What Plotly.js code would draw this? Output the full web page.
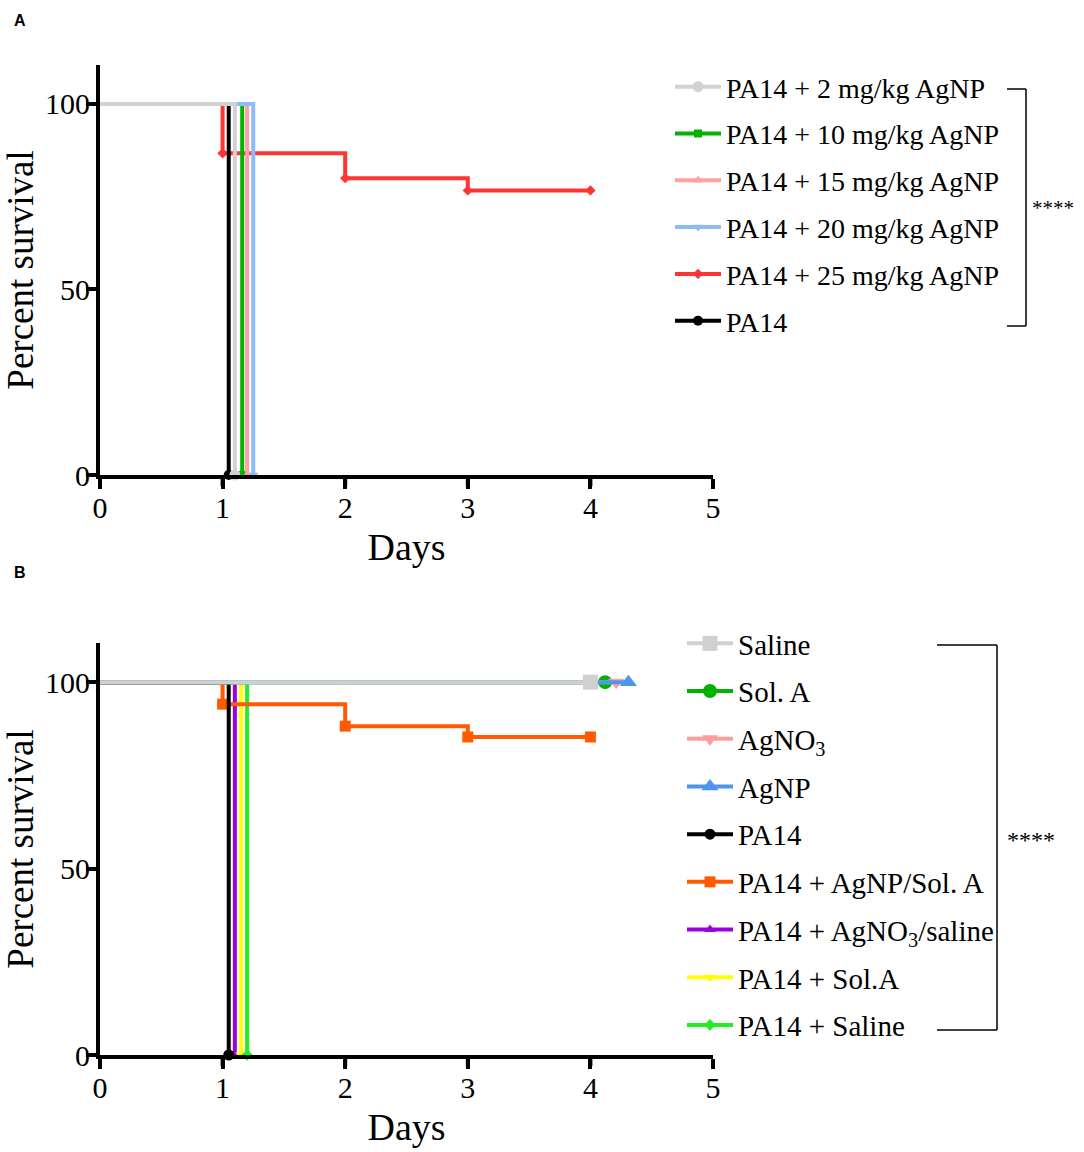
<!DOCTYPE html>
<html><head><meta charset="utf-8">
<script src="https://cdn.plot.ly/plotly-3.0.1.min.js"></script>
<style>html,body{margin:0;padding:0;background:#fff}</style>
</head><body><div id="chart" style="width:1084px;height:1152px"></div>
<script>
// ---------- Panel A data ----------
const namesA = ['PA14 + 2 mg/kg AgNP', 'PA14 + 10 mg/kg AgNP', 'PA14 + 15 mg/kg AgNP',
                'PA14 + 20 mg/kg AgNP', 'PA14 + 25 mg/kg AgNP', 'PA14'];
const daysA2 = [0, 1.10];   const survA2 = [100, 0];
const daysA10 = [0, 1.16];  const survA10 = [100, 0];
const daysA15 = [0, 1.20];  const survA15 = [100, 0];
const daysA20 = [0, 1.25];  const survA20 = [100, 0];
const daysA25 = [0, 1, 2, 3, 4];  const survA25 = [100, 86.7, 80, 76.7, 76.7];
const daysAPA = [0, 1.05];  const survAPA = [100, 0];

// ---------- Panel B data ----------
const namesB = ['Saline', 'Sol. A', 'AgNO<sub>3</sub>', 'AgNP', 'PA14', 'PA14 + AgNP/Sol. A',
                'PA14 + AgNO<sub>3</sub>/saline', 'PA14 + Sol.A', 'PA14 + Saline'];
const daysBSal = [0, 4.00];  const survBSal = [100, 100];
const daysBSolA = [0, 4.12]; const survBSolA = [100, 100];
const daysBAgNO3 = [0, 4.21]; const survBAgNO3 = [100, 100];
const daysBAgNP = [0, 4.31]; const survBAgNP = [100, 100];
const daysBPA = [0, 1.05];   const survBPA = [100, 0];
const daysBPANP = [0, 1, 2, 3, 4]; const survBPANP = [100, 94.1, 88.2, 85.3, 85.3];
const daysBPANO3 = [0, 1.10]; const survBPANO3 = [100, 0];
const daysBPASolA = [0, 1.15]; const survBPASolA = [100, 0];
const daysBPASal = [0, 1.20]; const survBPASal = [100, 0];

const xTicks = [0, 1, 2, 3, 4, 5];
const yTicks = [0, 50, 100];

// ---------- helpers ----------
const W = 1084, H = 1152;
const px = v => v / W, py = v => 1 - v / H;
const SERIF = 'Liberation Serif, Times New Roman, serif';

function km(x, y, name, color, symbol, msize, xa, ya, legend, rank) {
  return {
    type: 'scatter', mode: 'lines+markers', x: x, y: y, name: name,
    xaxis: xa, yaxis: ya, legend: legend, legendgroup: name, legendrank: rank,
    line: {color: color, width: 4, shape: 'hv'},
    marker: {color: color, symbol: symbol, size: msize, line: {width: 0}},
    selectedpoints: x.map((_, i) => i).slice(1),
    selected: {marker: {opacity: 1}}, unselected: {marker: {opacity: 0}},
    cliponaxis: false, hoverinfo: 'x+y+name'
  };
}

// traces listed in drawing order (bottom first); legendrank gives legend order
const traces = [
  km(daysA25, survA25, namesA[4], '#ff3434', 'diamond', 8, 'x', 'y', 'legend', 5),
  km(daysAPA, survAPA, namesA[5], '#000000', 'circle', 10, 'x', 'y', 'legend', 6),
  km(daysA10, survA10, namesA[1], '#00b400', 'square', 8, 'x', 'y', 'legend', 2),
  km(daysA15, survA15, namesA[2], '#ff9f9f', 'triangle-up', 9, 'x', 'y', 'legend', 3),
  km(daysA20, survA20, namesA[3], '#8cbcf5', 'triangle-down', 9, 'x', 'y', 'legend', 4),
  km(daysA2, survA2, namesA[0], '#d2d2d2', 'circle', 11, 'x', 'y', 'legend', 1),

  km(daysBPANO3, survBPANO3, namesB[6], '#9b00df', 'triangle-up', 10, 'x2', 'y2', 'legend2', 7),
  km(daysBPASolA, survBPASolA, namesB[7], '#ffff00', 'triangle-down', 10, 'x2', 'y2', 'legend2', 8),
  km(daysBPASal, survBPASal, namesB[8], '#22ee22', 'diamond', 9, 'x2', 'y2', 'legend2', 9),
  km(daysBPANP, survBPANP, namesB[5], '#ff5a00', 'square', 11, 'x2', 'y2', 'legend2', 6),
  km(daysBPA, survBPA, namesB[4], '#000000', 'circle', 11, 'x2', 'y2', 'legend2', 5),
  km(daysBSolA, survBSolA, namesB[1], '#00b300', 'circle', 14, 'x2', 'y2', 'legend2', 2),
  km(daysBAgNO3, survBAgNO3, namesB[2], '#ff9c9c', 'triangle-down', 14, 'x2', 'y2', 'legend2', 3),
  km(daysBAgNP, survBAgNP, namesB[3], '#4d96ef', 'triangle-up', 15, 'x2', 'y2', 'legend2', 4),
  km(daysBSal, survBSal, namesB[0], '#d0d0d0', 'square', 15, 'x2', 'y2', 'legend2', 1)
];

function xax(dom, anchor) {
  return {
    domain: dom, anchor: anchor, range: [0, 5], tickvals: xTicks, ticktext: xTicks.map(String),
    showline: true, linewidth: 4, linecolor: '#000', ticks: 'outside', ticklen: 10, tickwidth: 4,
    tickcolor: '#000', showgrid: false, zeroline: false,
    tickfont: {family: SERIF, size: 30, color: '#000'}, ticklabelstandoff: -7,
    title: {text: 'Days', font: {family: SERIF, size: 38, color: '#000'}, standoff: 11},
    automargin: false
  };
}
function yax(dom, anchor) {
  return {
    domain: dom, anchor: anchor, range: [0, 110.5], tickvals: yTicks, ticktext: yTicks.map(String),
    showline: true, linewidth: 4, linecolor: '#000', ticks: 'outside', ticklen: 10, tickwidth: 4,
    tickcolor: '#000', showgrid: false, zeroline: false,
    tickfont: {family: SERIF, size: 30, color: '#000'}, ticklabelstandoff: -10,
    title: {text: 'Percent survival', font: {family: SERIF, size: 37, color: '#000'}, standoff: 12},
    automargin: false
  };
}

// x tick marks anchored to the x scale, placed below the axis domain (pixel offsets)
function xTickMarks(xa, ya) {
  return xTicks.map(t => ({type: 'line', xref: xa, yref: ya + ' domain', ysizemode: 'pixel', yanchor: 0,
    x0: t, x1: t, y0: -1, y1: -11, line: {color: '#000', width: 4}}));
}

const xdom = [px(100), px(713)];
const line = (x0, y0, x1, y1) => ({type: 'line', xref: 'paper', yref: 'paper',
  x0: px(x0), y0: py(y0), x1: px(x1), y1: py(y1), line: {color: '#000', width: 1.5}});
const note = (text, x, y, font) => ({text: text, x: px(x), y: py(y), xref: 'paper', yref: 'paper',
  xanchor: 'center', yanchor: 'middle', showarrow: false, font: font});

const layout = {
  width: W, height: H, margin: {l: 0, r: 0, t: 0, b: 0},
  paper_bgcolor: '#fff', plot_bgcolor: '#fff', showlegend: true,
  xaxis: xax(xdom, 'y'), yaxis: yax([py(475), py(65)], 'x'),
  xaxis2: xax(xdom, 'y2'), yaxis2: yax([py(1055), py(643)], 'x2'),
  legend: {x: px(670), y: py(62), xanchor: 'left', yanchor: 'top', traceorder: 'grouped',
    itemwidth: 46, tracegroupgap: 7.4, font: {family: SERIF, size: 28, color: '#000'}, bgcolor: 'rgba(0,0,0,0)'},
  legend2: {x: px(682), y: py(618), xanchor: 'left', yanchor: 'top', traceorder: 'grouped',
    itemwidth: 46, tracegroupgap: 7, font: {family: SERIF, size: 29, color: '#000'}, bgcolor: 'rgba(0,0,0,0)'},
  shapes: [
    line(1007, 89, 1026, 89), line(1026, 89, 1026, 326), line(1007, 326, 1026, 326),
    line(937, 645, 997, 645), line(997, 645, 997, 1030), line(937, 1030, 997, 1030)
  ].concat(xTickMarks('x', 'y'), xTickMarks('x2', 'y2')),
  annotations: [
    note('A', 20, 21, {family: 'Liberation Sans, Arial, sans-serif', size: 16, weight: 700, color: '#000'}),
    note('B', 20, 572, {family: 'Liberation Sans, Arial, sans-serif', size: 16, weight: 700, color: '#000'}),
    note('****', 1053, 208, {family: SERIF, size: 21, color: '#000'}),
    note('****', 1031, 840, {family: SERIF, size: 24, color: '#000'})
  ]
};

Plotly.newPlot('chart', traces, layout, {displayModeBar: false, staticPlot: true});
</script></body></html>
